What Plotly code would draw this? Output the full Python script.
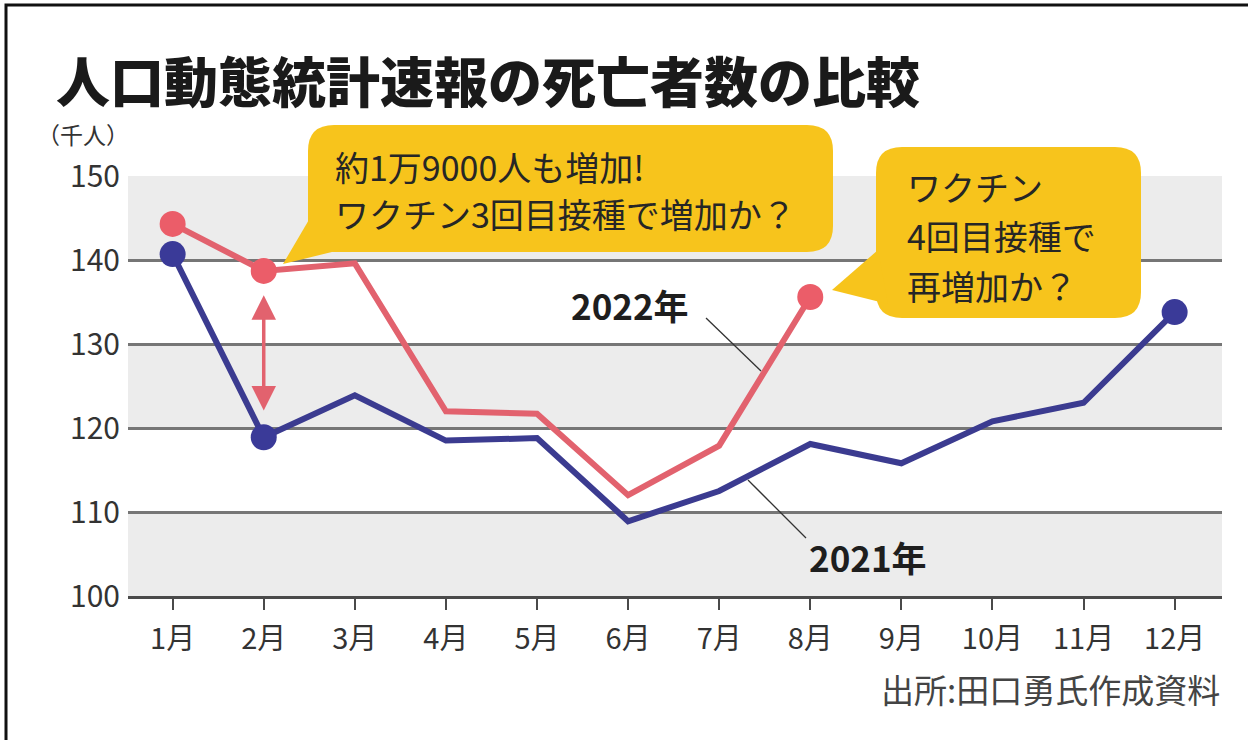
import plotly.graph_objects as go

# ---- data (thousand people) ----
months = ["1月", "2月", "3月", "4月", "5月", "6月", "7月", "8月", "9月", "10月", "11月", "12月"]
deaths_2021 = [140.7, 118.9, 123.9, 118.5, 118.8, 108.9, 112.5, 118.1, 115.8, 120.8, 123.0, 133.8]
deaths_2022 = [144.3, 138.7, 139.6, 122.0, 121.7, 112.0, 117.9, 135.6]
y_ticks = [100, 110, 120, 130, 140, 150]

# ---- page geometry ----
WIDTH, HEIGHT = 1248, 740
L, R, T, B = 128, 26, 176, 144
PW, PH = WIDTH - L - R, HEIGHT - T - B


def px(x):
    return (x - L) / PW


def py(y):
    return 1 - (y - T) / PH


FONT = "Noto Sans CJK JP"
C2021 = "#3b3b90"
C2022 = "#e2626e"
YELLOW = "#f7c41c"
TEXT = "#262626"

x_idx = list(range(len(months)))
marker_2021 = [26 if i in (0, 1, 11) else 0 for i in range(len(deaths_2021))]
marker_2022 = [26 if i in (0, 1, 7) else 0 for i in range(len(deaths_2022))]

fig = go.Figure()
fig.add_trace(go.Scatter(
    x=x_idx[:len(deaths_2022)], y=deaths_2022, mode="lines+markers",
    line=dict(color=C2022, width=6),
    marker=dict(size=marker_2022, color="#eb5d69", opacity=1, line=dict(width=0)),
    showlegend=False, hoverinfo="skip",
))
fig.add_trace(go.Scatter(
    x=x_idx[:len(deaths_2021)], y=deaths_2021, mode="lines+markers",
    line=dict(color=C2021, width=6),
    marker=dict(size=marker_2021, color="#3a3a98", opacity=1, line=dict(width=0)),
    showlegend=False, hoverinfo="skip",
))

shapes = []
# alternating grey bands
for lo in (100, 120, 140):
    shapes.append(dict(type="rect", xref="x domain", yref="y", x0=0, x1=1, y0=lo, y1=lo + 10,
                       fillcolor="#ececec", line=dict(width=0), layer="below"))


def rounded_rect(x0, y0, x1, y1, r):
    pts = [
        f"M {px(x0 + r)},{py(y0)}",
        f"L {px(x1 - r)},{py(y0)}",
        f"Q {px(x1)},{py(y0)} {px(x1)},{py(y0 + r)}",
        f"L {px(x1)},{py(y1 - r)}",
        f"Q {px(x1)},{py(y1)} {px(x1 - r)},{py(y1)}",
        f"L {px(x0 + r)},{py(y1)}",
        f"Q {px(x0)},{py(y1)} {px(x0)},{py(y1 - r)}",
        f"L {px(x0)},{py(y0 + r)}",
        f"Q {px(x0)},{py(y0)} {px(x0 + r)},{py(y0)}",
        "Z",
    ]
    return " ".join(pts)


def polygon(points):
    d = "M " + " L ".join(f"{px(a)},{py(b)}" for a, b in points) + " Z"
    return d


# speech bubbles
for path in (
    rounded_rect(308, 125, 833, 252, 26),
    polygon([(310, 218), (283, 264), (340, 250)]),
    rounded_rect(876, 147, 1141, 318, 26),
    polygon([(878, 250), (832, 290), (888, 304)]),
):
    shapes.append(dict(type="path", xref="paper", yref="paper", path=path,
                       fillcolor=YELLOW, line=dict(width=0), layer="above"))

# leader lines for series labels
shapes.append(dict(type="line", xref="paper", yref="paper",
                   x0=px(706), y0=py(318), x1=px(761), y1=py(371),
                   line=dict(color="#333333", width=1.3)))
shapes.append(dict(type="line", xref="paper", yref="paper",
                   x0=px(748), y0=py(480), x1=px(806), y1=py(538),
                   line=dict(color="#333333", width=1.3)))

# page frame
shapes.append(dict(type="rect", xref="paper", yref="paper",
                   x0=px(6), y0=py(5), x1=px(1262), y1=py(760),
                   line=dict(color="#111111", width=3), fillcolor="rgba(0,0,0,0)"))

annotations = []


def text(x, y, s, size, color=TEXT, weight="normal", xanchor="left"):
    annotations.append(dict(
        xref="paper", yref="paper", x=px(x), y=py(y), text=s, showarrow=False,
        xanchor=xanchor, yanchor="middle", borderpad=0,
        font=dict(family=FONT, size=size, color=color, weight=weight),
    ))


text(55, 80, "人口動態統計速報の死亡者数の比較", 54, color="#1a1a1a", weight=900)
text(36, 134, "（千人）", 23, color="#333333")
text(334, 166, "約1万9000人も増加!", 34)
text(334, 213, "ワクチン3回目接種で増加か？", 34)
text(906, 186, "ワクチン", 34)
text(906, 236, "4回目接種で", 34)
text(906, 285, "再増加か？", 34)
text(630, 304, "2022年", 35, color="#1e1e1e", weight="bold", xanchor="center")
text(868, 556, "2021年", 35, color="#1e1e1e", weight="bold", xanchor="center")
text(1221, 689, "出所:田口勇氏作成資料", 33, color="#444444", xanchor="right")

# double-headed arrow showing the February gap
feb = 1
annotations.append(dict(
    xref="x", yref="y", axref="x", ayref="y",
    x=feb, y=deaths_2022[feb] - 2.9, ax=feb, ay=deaths_2021[feb] + 3.0,
    text="", showarrow=True, arrowhead=2, startarrowhead=2, arrowside="end+start",
    arrowsize=1.4, startarrowsize=1.4, arrowwidth=3.5, arrowcolor=C2022,
    standoff=0, startstandoff=0,
))

fig.update_layout(
    width=WIDTH, height=HEIGHT,
    margin=dict(l=L, r=R, t=T, b=B, pad=0),
    paper_bgcolor="white", plot_bgcolor="white",
    shapes=shapes, annotations=annotations,
    font=dict(family=FONT, color="#333333"),
    xaxis=dict(
        range=[-0.49, 11.52], tickmode="array", tickvals=x_idx, ticktext=months,
        showgrid=False, zeroline=False,
        showline=True, linecolor="#4a4a4a", linewidth=3,
        ticks="outside", ticklen=11, tickwidth=2, tickcolor="#4a4a4a",
        ticklabelstandoff=4,
        tickfont=dict(family=FONT, size=29, color="#333333"),
        fixedrange=True,
    ),
    yaxis=dict(
        range=[100, 150], tickmode="array", tickvals=y_ticks,
        showgrid=True, gridcolor="#767676", gridwidth=2.5,
        zeroline=False, showline=False, ticks="",
        ticklabelstandoff=7,
        tickfont=dict(family=FONT, size=30, color="#333333"),
        fixedrange=True,
    ),
)

fig.write_html("out.html")
